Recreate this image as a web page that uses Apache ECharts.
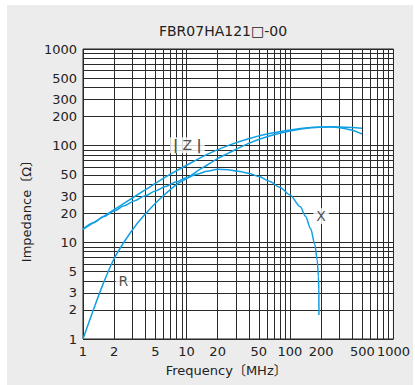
<!DOCTYPE html>
<html>
<head>
<meta charset="utf-8">
<script src="https://cdn.jsdelivr.net/npm/echarts@6/dist/echarts.min.js"></script>
<style>
html,body{margin:0;padding:0;background:#ffffff;}
#c{position:absolute;left:7px;top:5px;width:406px;height:380px;}
</style>
</head>
<body>
<div id="c"></div>
<script>
// ---- data ----
const chartTitle = 'FBR07HA121\u25A1-00';
const xName = 'Frequency\u3014MHz\u3015';
const yName = 'Impedance\u3014\u03A9\u3015';

const xGridValues = [1,2,3,4,5,6,7,8,9,10,20,30,40,50,60,70,80,90,100,200,300,400,500,600,700,800,900,1000];
const yGridValues = [1,2,3,4,5,6,7,8,9,10,20,30,40,50,60,70,80,90,100,200,300,400,500,600,700,800,900,1000];
const xLabelValues = [1,2,5,10,20,50,100,200,500,1000];
const yLabelValues = [1,2,3,5,10,20,30,50,100,200,300,500,1000];

// |Z|
const zFreq = [1, 1.585, 2.512, 3.981, 6.31, 10, 15.85, 25.12, 39.81, 63.1, 100, 158.5, 251, 398, 496];
const zVals = [13.6, 18.6, 25.5, 34.8, 47.5, 62.7, 81.3, 100, 118, 133.4, 145.5, 153.8, 157, 154.2, 151];
// R
const rFreq = [1, 1.259, 1.585, 1.995, 2.512, 3.162, 3.981, 5.012, 6.31, 7.94, 10, 12.59, 15.85, 19.95, 25.12, 39.81, 63.1, 100, 158.5, 251, 398, 496];
const rVals = [1.0, 2.0, 3.85, 6.76, 10.2, 14.5, 19.5, 25.4, 32.0, 39.4, 45.7, 54.3, 63.1, 73.5, 83.2, 105.7, 126, 142, 153, 155.6, 144.5, 132];
// X
const xFreq = [1, 1.259, 1.585, 1.995, 2.512, 3.162, 3.981, 5.012, 6.31, 7.94, 10, 12.59, 15.85, 19.95, 25.12, 31.62, 39.81, 50.12, 63.1, 79.4, 100, 125.9, 141.3, 158.5, 173.8, 183.2, 188.4, 190.1, 190.5];
const xVals = [13.6, 15.9, 18.45, 21.1, 23.9, 27.0, 30.3, 34.0, 37.9, 42.2, 46.6, 50.7, 54.3, 56.9, 56.5, 54.3, 51.8, 47.9, 42.8, 37.2, 30.9, 23.4, 18.6, 13.8, 9.5, 6.56, 4.47, 3.16, 1.77];

// curve labels
const curveLabelText = ['|Z|', 'X', 'R'];
const curveLabelFreq = [10.2, 200, 2.46];
const curveLabelVals = [101, 18.7, 3.95];

// ---- chart ----
const pairs = (a, b) => a.map((v, i) => [v, b[i]]);
const blue = '#12a0e4';
const font = 'DejaVu Sans, Noto Sans CJK JP, sans-serif';
const lineStyle = { color: blue, width: 1.5 };

const chart = echarts.init(document.getElementById('c'), null, { renderer: 'svg' });
chart.setOption({
  backgroundColor: '#ececec',
  animation: false,
  textStyle: { fontFamily: font },
  graphic: [{
    type: 'text', x: 216, y: 26,
    style: { text: chartTitle, fill: '#222', font: '14px ' + font, textAlign: 'center', textVerticalAlign: 'middle' }
  }],
  grid: { left: 76, top: 44, right: 17, bottom: 46, show: true, backgroundColor: '#ffffff', borderColor: '#222', borderWidth: 1 },
  xAxis: {
    type: 'log', logBase: 10, min: 1, max: 1000,
    name: xName, nameLocation: 'middle', nameGap: 25,
    nameTextStyle: { fontSize: 13, color: '#222', fontFamily: font, padding: [0, 24, 0, 0] },
    axisLine: { show: false },
    axisTick: { show: false, customValues: xGridValues },
    axisLabel: { customValues: xLabelValues, formatter: v => String(v), fontSize: 13, color: '#222', margin: 6, fontFamily: font, hideOverlap: false },
    splitLine: { show: true, lineStyle: { color: '#2a2a2a', width: 1 } }
  },
  yAxis: {
    type: 'log', logBase: 10, min: 1, max: 1000,
    name: yName, nameLocation: 'middle', nameGap: 44,
    nameTextStyle: { fontSize: 13, color: '#222', fontFamily: font, padding: [0, 28, 0, 0] },
    axisLine: { show: false },
    axisTick: { show: false, customValues: yGridValues },
    axisLabel: { customValues: yLabelValues, formatter: v => String(v), fontSize: 13, color: '#222', margin: 6, fontFamily: font, hideOverlap: false },
    splitLine: { show: true, lineStyle: { color: '#2a2a2a', width: 1 } }
  },
  series: [
    { type: 'line', name: '|Z|', data: pairs(zFreq, zVals), smooth: 0.3, showSymbol: false, lineStyle: lineStyle, z: 3 },
    { type: 'line', name: 'R', data: pairs(rFreq, rVals), smooth: 0.3, showSymbol: false, lineStyle: lineStyle, z: 3 },
    { type: 'line', name: 'X', data: pairs(xFreq, xVals), smooth: 0.3, smoothMonotone: 'x', showSymbol: false, lineStyle: lineStyle, z: 3 },
    {
      type: 'scatter', symbolSize: 0, z: 5,
      data: curveLabelFreq.map((f, i) => ({ value: [f, curveLabelVals[i]], name: curveLabelText[i] })),
      label: {
        show: true, position: 'inside', color: '#222', fontSize: 14, fontFamily: font,
        backgroundColor: '#ffffff', padding: [1, 3],
        formatter: p => p.name === '|Z|' ? '{b||} Z {b||}' : p.name,
        rich: { b: { fontSize: 14, fontWeight: 'bold', color: '#222', fontFamily: font } }
      }
    }
  ]
});
</script>
</body>
</html>
